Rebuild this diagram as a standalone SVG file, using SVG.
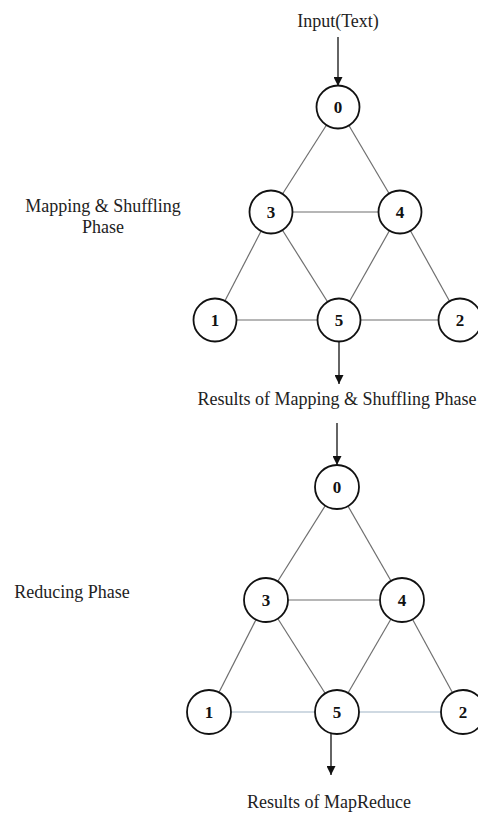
<svg xmlns="http://www.w3.org/2000/svg" width="478" height="817" viewBox="0 0 478 817">
  <style>
    .edge { stroke: #6f6f6f; stroke-width: 1.2; fill: none; }
    .edge-blue { stroke: #9fb3c6; stroke-width: 1.2; fill: none; }
    .flow { stroke: #111; stroke-width: 1.3; fill: none; marker-end: url(#arrow); }
    .node circle { fill: #fff; stroke: #111; stroke-width: 1.8; }
    .node text { font-family: "Liberation Serif", "Times New Roman", serif; font-weight: bold; font-size: 17px; text-anchor: middle; fill: #111; }
    .label { font-family: "Liberation Serif", "Times New Roman", serif; font-size: 18px; fill: #222; }
  </style>
  <defs>
    <marker id="arrow" viewBox="0 0 10 10" refX="10" refY="5" markerWidth="9" markerHeight="9" markerUnits="userSpaceOnUse" orient="auto">
      <path d="M0,0 L10,5 L0,10 Z" fill="#111"/>
    </marker>
  </defs>
  <rect width="478" height="817" fill="#fff"/>

  <!-- labels -->
  <text class="label" x="338" y="27" text-anchor="middle">Input(Text)</text>
  <text class="label" x="103" y="212" text-anchor="middle">Mapping &amp; Shuffling</text>
  <text class="label" x="103" y="233" text-anchor="middle">Phase</text>
  <text class="label" x="337" y="405" text-anchor="middle">Results of Mapping &amp; Shuffling Phase</text>
  <text class="label" x="72" y="598" text-anchor="middle">Reducing Phase</text>
  <text class="label" x="329" y="808" text-anchor="middle">Results of MapReduce</text>

  <!-- connectors -->
  <g id="connectors">
    <!-- mapping & shuffling graph -->
    <line class="edge" x1="338" y1="107" x2="271" y2="212"/>
    <line class="edge" x1="338" y1="107" x2="400" y2="212"/>
    <line class="edge" x1="271" y1="212" x2="400" y2="212"/>
    <line class="edge" x1="271" y1="212" x2="215" y2="320"/>
    <line class="edge" x1="271" y1="212" x2="339" y2="320"/>
    <line class="edge" x1="400" y1="212" x2="339" y2="320"/>
    <line class="edge" x1="400" y1="212" x2="460" y2="320"/>
    <line class="edge" x1="215" y1="320" x2="339" y2="320"/>
    <line class="edge" x1="339" y1="320" x2="460" y2="320"/>
    <!-- reducing graph -->
    <line class="edge" x1="337" y1="487" x2="266" y2="600"/>
    <line class="edge" x1="337" y1="487" x2="402" y2="600"/>
    <line class="edge" x1="266" y1="600" x2="402" y2="600"/>
    <line class="edge" x1="266" y1="600" x2="209" y2="712"/>
    <line class="edge" x1="266" y1="600" x2="337" y2="712"/>
    <line class="edge" x1="402" y1="600" x2="337" y2="712"/>
    <line class="edge" x1="402" y1="600" x2="463" y2="712"/>
    <line class="edge-blue" x1="209" y1="712" x2="337" y2="712"/>
    <line class="edge-blue" x1="337" y1="712" x2="463" y2="712"/>
    <!-- flow arrows -->
    <line class="flow" x1="338" y1="37" x2="338" y2="86"/>
    <line class="flow" x1="339" y1="342" x2="339" y2="384"/>
    <line class="flow" x1="337" y1="423" x2="337" y2="465"/>
    <line class="flow" x1="331" y1="733" x2="331" y2="775"/>
  </g>

  <!-- mapping & shuffling nodes -->
  <g id="m0" class="node"><circle cx="338" cy="107" r="21.5"/><text x="338" y="113">0</text></g>
  <g id="m3" class="node"><circle cx="271" cy="212" r="21.5"/><text x="271" y="218">3</text></g>
  <g id="m4" class="node"><circle cx="400" cy="212" r="21.5"/><text x="400" y="218">4</text></g>
  <g id="m1" class="node"><circle cx="215" cy="320" r="21.5"/><text x="215" y="326">1</text></g>
  <g id="m5" class="node"><circle cx="339" cy="320" r="21.5"/><text x="339" y="326">5</text></g>
  <g id="m2" class="node"><circle cx="460" cy="320" r="21.5"/><text x="460" y="326">2</text></g>

  <!-- reducing nodes -->
  <g id="r0" class="node"><circle cx="337" cy="487" r="22"/><text x="337" y="493">0</text></g>
  <g id="r3" class="node"><circle cx="266" cy="600" r="22"/><text x="266" y="606">3</text></g>
  <g id="r4" class="node"><circle cx="402" cy="600" r="22"/><text x="402" y="606">4</text></g>
  <g id="r1" class="node"><circle cx="209" cy="712" r="22"/><text x="209" y="718">1</text></g>
  <g id="r5" class="node"><circle cx="337" cy="712" r="22"/><text x="337" y="718">5</text></g>
  <g id="r2" class="node"><circle cx="463" cy="712" r="22"/><text x="463" y="718">2</text></g>
</svg>
